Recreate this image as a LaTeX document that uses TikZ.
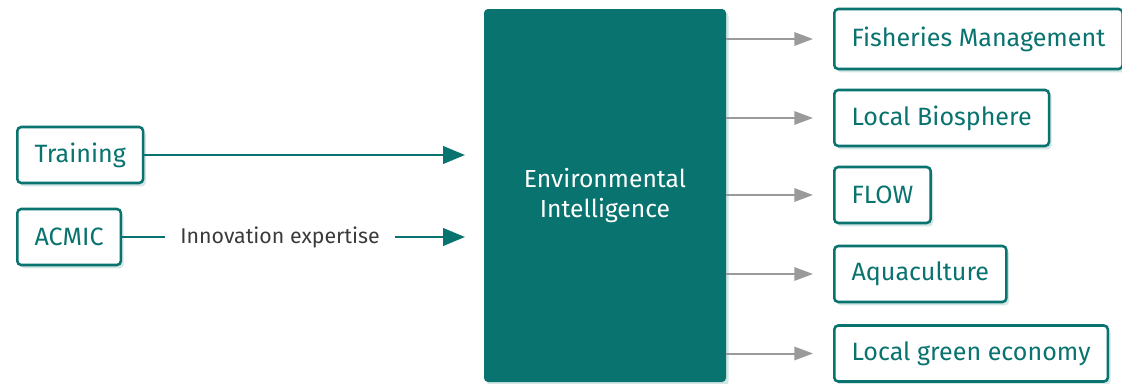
\documentclass[tikz,border=0pt]{standalone}
\usepackage{fontspec}
\setmainfont{Fira Sans}
\usetikzlibrary{arrows.meta,shadows}
\definecolor{sea}{HTML}{08736F}
\definecolor{shade}{HTML}{D3E6E5}
\definecolor{arrowgray}{HTML}{9A9A9A}
\definecolor{textgray}{HTML}{3A3A3A}

\begin{document}
\begin{tikzpicture}[x=0.75pt, y=-0.75pt,
    box/.style={draw=sea, line width=1.9pt, rounded corners=3pt, fill=white, text=sea,
        font=\fontsize{18.8}{21}\selectfont, inner xsep=13pt, minimum height=42pt, anchor=west,
        drop shadow={shadow xshift=2pt, shadow yshift=-2.5pt, fill=shade, opacity=1}},
    grayarrow/.style={draw=arrowgray, line width=1.5pt, -{Triangle[length=14pt, width=10pt]}, shorten >=15pt},
    seaarrow/.style={draw=sea, line width=2.2pt, -{Triangle[length=16.5pt, width=13pt]}, shorten >=14pt}]
    \useasboundingbox (0, 0) rectangle (1122, 383);
    % centre block
    \node[fill=sea, rounded corners=3pt, minimum width=181.5pt, minimum height=279.75pt, inner sep=0pt,
        text=white, align=center, font=\fontsize{18.5}{23}\selectfont,
        drop shadow={shadow xshift=2pt, shadow yshift=-2.5pt, fill=shade, opacity=1}] (env) at (605, 195.5) {Environmental\\Intelligence};
    % inputs
    \node[box] (train) at (16, 155) {Training};
    \node[box] (acmic) at (16, 237) {ACMIC};
    \node[text=textgray, font=\fontsize{16}{18}\selectfont, inner xsep=11pt] (innov) at (280, 237) {Innovation expertise};
    \draw[seaarrow] (train) -- (train -| env.west);
    \draw[sea, line width=2.2pt] (acmic) -- (innov);
    \draw[seaarrow] (innov) -- (innov -| env.west);
    % outputs
    \node[box, minimum height=45pt] (fish) at (833, 39) {Fisheries Management};
    \node[box] (bio) at (833, 118) {Local Biosphere};
    \node[box] (flow) at (833, 195) {FLOW};
    \node[box] (aqua) at (833, 274) {Aquaculture};
    \node[box] (green) at (833, 353.5) {Local green economy};
    \foreach \n in {fish, bio, flow, aqua, green}
        \draw[grayarrow] (env.east |- \n) -- (\n);
\end{tikzpicture}
\end{document}
